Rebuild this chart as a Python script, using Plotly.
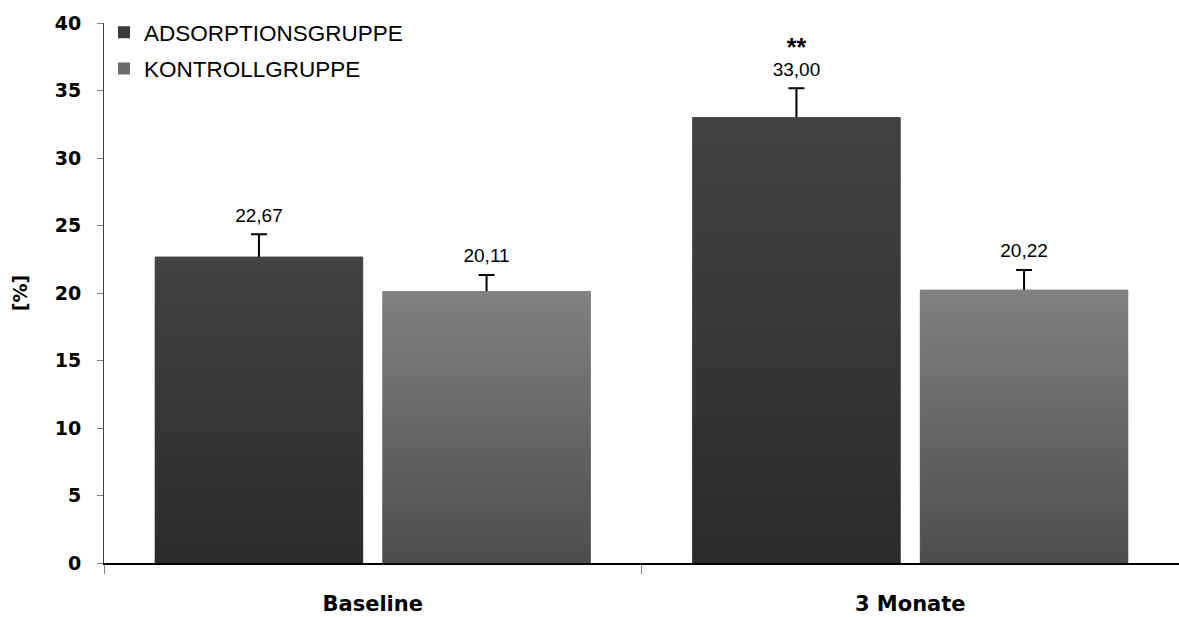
import plotly.graph_objects as go

# ---- data -----------------------------------------------------------------
categories = ["Baseline", "3 Monate"]
series_names = ["ADSORPTIONSGRUPPE", "KONTROLLGRUPPE"]
adsorption = [22.67, 33.00]
kontroll = [20.11, 20.22]
adsorption_err = [1.68, 2.16]
kontroll_err = [1.22, 1.48]
adsorption_sig = ["", "**"]
kontroll_sig = ["", ""]
y_ticks = [0, 5, 10, 15, 20, 25, 30, 35, 40]

# ---- styling --------------------------------------------------------------
N_SLICES = 60          # vertical steps used to paint the bar gradient
BARGAP = 0.153
BARGROUPGAP = 0.088
series_style = [
    # (offsetgroup, legend colour, top colour, bottom colour)
    ("ads", "#3a3a3a", (0x43, 0x43, 0x43), (0x2b, 0x2b, 0x2b)),
    ("kon", "#6a6a6a", (0x81, 0x81, 0x81), (0x4d, 0x4d, 0x4d)),
]
BOLD = "DejaVu Sans"
ARIAL = "Liberation Sans, Arial, sans-serif"


def fmt(v):
    return f"{v:.2f}".replace(".", ",")


def mix(c_bottom, c_top, t):
    r, g, b = (round(cb + (ct - cb) * t) for cb, ct in zip(c_bottom, c_top))
    return f"rgb({r},{g},{b})"


fig = go.Figure()

all_series = [
    (series_names[0], adsorption, adsorption_err, adsorption_sig),
    (series_names[1], kontroll, kontroll_err, kontroll_sig),
]

for (name, vals, errs, sig), (grp, legend_col, top_c, bot_c) in zip(all_series, series_style):
    # transparent bar that only carries the error bar; its lower half is
    # hidden behind the solid bar drawn next
    fig.add_trace(go.Bar(
        x=categories, y=vals,
        offsetgroup=grp, legendgroup=grp, showlegend=False,
        marker=dict(color="rgba(0,0,0,0)", line=dict(width=0)),
        error_y=dict(type="data", array=errs, color="black",
                     thickness=2, width=8),
        hoverinfo="skip",
    ))
    # solid bar: legend entry and backdrop of the gradient
    fig.add_trace(go.Bar(
        x=categories, y=vals, name=name,
        offsetgroup=grp, legendgroup=grp,
        marker=dict(color=legend_col, line=dict(width=0)),
        hoverinfo="skip",
    ))
    # vertical gradient painted as thin stacked slices over the bar
    for i in range(N_SLICES):
        t = (i + 0.5) / N_SLICES
        col = mix(bot_c, top_c, t)
        fig.add_trace(go.Bar(
            x=categories,
            y=[v / N_SLICES for v in vals],
            base=[v * i / N_SLICES for v in vals],
            offsetgroup=grp, legendgroup=grp, showlegend=False,
            marker=dict(color=col, line=dict(width=0.8, color=col)),
            hoverinfo="skip",
        ))

# value labels and significance marks above the error bars
for (name, vals, errs, sig), (grp, *_rest) in zip(all_series, series_style):
    tops = [v + e for v, e in zip(vals, errs)]
    fig.add_trace(go.Scatter(
        x=categories, y=tops,
        mode="markers+text", text=[fmt(v) for v in vals],
        textposition="top center",
        textfont=dict(family=ARIAL, size=19, color="black"),
        marker=dict(size=11, opacity=0),
        offsetgroup=grp, showlegend=False, hoverinfo="skip",
        cliponaxis=False,
    ))
    if any(sig):
        fig.add_trace(go.Scatter(
            x=categories, y=tops,
            mode="markers+text", text=sig,
            textposition="top center",
            textfont=dict(family=ARIAL, size=25, color="black", weight="bold"),
            marker=dict(size=40, opacity=0),
            offsetgroup=grp, showlegend=False, hoverinfo="skip",
            cliponaxis=False,
        ))

fig.update_layout(
    width=1179, height=617,
    margin=dict(l=104, r=0, t=23, b=54),
    plot_bgcolor="white", paper_bgcolor="white",
    barmode="group", bargap=BARGAP, bargroupgap=BARGROUPGAP,
    scattermode="group", scattergap=BARGAP,
    showlegend=True,
    legend=dict(
        x=0.0, y=1.022, xanchor="left", yanchor="top",
        font=dict(family=ARIAL, size=22.5, color="black"),
        bgcolor="rgba(0,0,0,0)", traceorder="grouped", tracegroupgap=4,
    ),
    xaxis=dict(
        showline=True, linecolor="black", linewidth=2,
        ticks="outside", tickson="boundaries", ticklen=9,
        tickcolor="#808080", tickwidth=1,
        tickfont=dict(family=BOLD, size=21, color="black", weight="bold"),
        ticklabelstandoff=21, automargin=False,
        showgrid=False, zeroline=False,
    ),
    yaxis=dict(
        range=[0, 40], tickvals=y_ticks,
        showline=True, linecolor="#404040", linewidth=1,
        ticks="outside", ticklen=6, tickcolor="#808080",
        tickfont=dict(family=BOLD, size=19, color="black", weight="bold"),
        ticklabelstandoff=12, automargin=False,
        showgrid=False, zeroline=False,
        title=dict(text="[%]", standoff=22,
                   font=dict(family=BOLD, size=19, color="black", weight="bold")),
    ),
)

fig.write_html("out.html")
